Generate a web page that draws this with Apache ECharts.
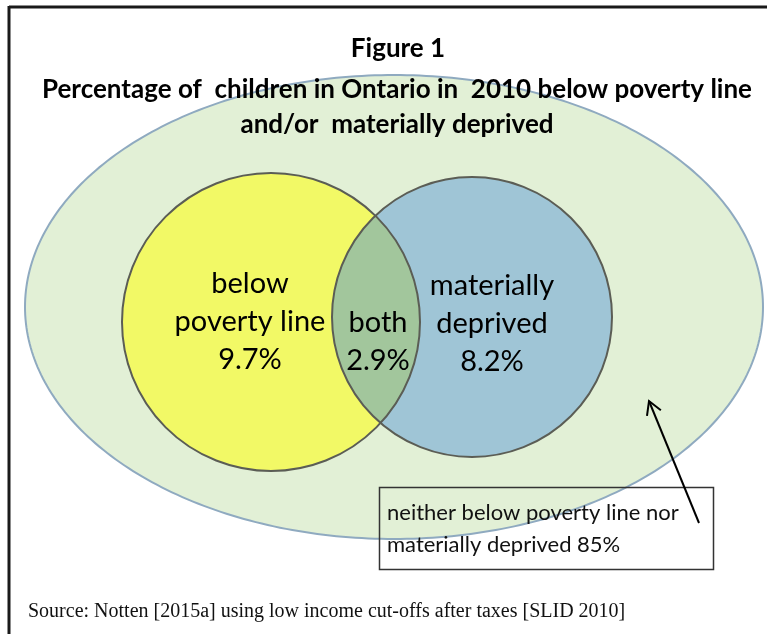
<!DOCTYPE html>
<html><head><meta charset="utf-8">
<script src="https://cdn.jsdelivr.net/npm/echarts@6/dist/echarts.min.js"></script>
<style>html,body{margin:0;padding:0;background:#fff}#c{width:767px;height:634px}</style>
</head><body><div id="c"></div>
<script>
// ---- data ----
const titleLines = ['Figure 1', 'Percentage of  children in Ontario in  2010 below poverty line', 'and/or  materially deprived'];
const sourceText = 'Source: Notten [2015a] using low income cut-offs after taxes [SLID 2010]';
const regionKeys = ['neither', 'poverty', 'both', 'deprived'];
const regionNames = ['neither below poverty line nor\nmaterially deprived', 'below\npoverty line', 'both', 'materially\ndeprived'];
const regionValues = [85, 9.7, 2.9, 8.2];

// ---- layout (axis units of a hidden 767 x 634 plane) ----
const layout = {
  universe: { cx: 394, cy: 307, rx: 369, ry: 232 },
  poverty: { cx: 271, cy: 322, r: 149 },
  deprived: { cx: 472, cy: 317, r: 140 },
  labels: { poverty: [250, 322], both: [378, 342], deprived: [492, 324] }
};
const colors = {
  universeFill: '#e2f0d6', universeStroke: '#8faac0',
  poverty: '#f2f966', deprived: '#9fc5d6', both: '#a2c69c',
  circleStroke: '#5b5d55', text: '#000'
};
const FONT = 'Lato, "Open Sans", sans-serif';

function ellipsePts(cx, cy, rx, ry, n) {
  const p = [];
  for (let i = 0; i < n; i++) { const t = i / n * Math.PI * 2; p.push([cx + rx * Math.cos(t), cy + ry * Math.sin(t)]); }
  return p;
}
function pixCircle(api, c) {
  const p = api.coord([c.cx, c.cy]);
  const r = api.size([c.r, c.r])[0];
  return { cx: p[0], cy: p[1], r };
}
function lensPts(a, b) {
  const pts = [];
  const n = 720;
  for (let i = 0; i < n; i++) {
    const t = i / n * Math.PI * 2;
    const x = a.cx + a.r * Math.cos(t), y = a.cy + a.r * Math.sin(t);
    if ((x - b.cx) ** 2 + (y - b.cy) ** 2 <= b.r * b.r) pts.push([x, y]);
    const x2 = b.cx + b.r * Math.cos(t), y2 = b.cy + b.r * Math.sin(t);
    if ((x2 - a.cx) ** 2 + (y2 - a.cy) ** 2 <= a.r * a.r) pts.push([x2, y2]);
  }
  const mx = pts.reduce((s, p) => s + p[0], 0) / pts.length;
  const my = pts.reduce((s, p) => s + p[1], 0) / pts.length;
  pts.sort((p, q) => Math.atan2(p[1] - my, p[0] - mx) - Math.atan2(q[1] - my, q[0] - mx));
  return pts;
}
function labelText(i) { return regionNames[i] + '\n' + regionValues[i] + '%'; }
function textEl(api, pos, txt) {
  const p = api.coord(pos);
  return { type: 'text', x: p[0], y: p[1], z2: 10,
    style: { text: txt, fill: colors.text, font: '29px ' + FONT, align: 'center', verticalAlign: 'middle',
      textAlign: 'center', textVerticalAlign: 'middle', lineHeight: 38 } };
}

function renderRegion(params, api) {
  const key = regionKeys[api.value(0)];
  if (key === 'neither') {
    const u = layout.universe;
    const c = api.coord([u.cx, u.cy]);
    const s = api.size([u.rx, u.ry]);
    return { type: 'polygon', shape: { points: ellipsePts(c[0], c[1], s[0], s[1], 360) },
      style: { fill: colors.universeFill, stroke: colors.universeStroke, lineWidth: 2 } };
  }
  if (key === 'poverty') {
    const c = pixCircle(api, layout.poverty);
    return { type: 'group', children: [
      { type: 'circle', shape: c, style: { fill: colors.poverty } },
      textEl(api, layout.labels.poverty, labelText(1))
    ] };
  }
  if (key === 'deprived') {
    const c = pixCircle(api, layout.deprived);
    return { type: 'group', children: [
      { type: 'circle', shape: c, style: { fill: colors.deprived } },
      textEl(api, layout.labels.deprived, labelText(3))
    ] };
  }
  // both
  const a = pixCircle(api, layout.poverty), b = pixCircle(api, layout.deprived);
  return { type: 'group', children: [
    { type: 'polygon', shape: { points: lensPts(a, b) }, style: { fill: colors.both } },
    { type: 'circle', shape: a, style: { fill: null, stroke: colors.circleStroke, lineWidth: 2 } },
    { type: 'circle', shape: b, style: { fill: null, stroke: colors.circleStroke, lineWidth: 2 } },
    textEl(api, layout.labels.both, labelText(2))
  ] };
}

// arrow
const arrowTail = [699, 523], arrowTip = [649, 401];
function arrowHead() {
  const dx = arrowTip[0] - arrowTail[0], dy = arrowTip[1] - arrowTail[1];
  const L = Math.hypot(dx, dy), ux = dx / L, uy = dy / L, len = 15, ang = Math.PI / 6;
  const w = (s) => {
    const c = Math.cos(s * ang), sn = Math.sin(s * ang);
    const rx = ux * c - uy * sn, ry = ux * sn + uy * c;
    return [arrowTip[0] - rx * len, arrowTip[1] - ry * len];
  };
  return [w(1), arrowTip.slice(), w(-1)];
}

const chart = echarts.init(document.getElementById('c'), null, { renderer: 'canvas' });
chart.setOption({
  animation: false,
  backgroundColor: '#fff',
  grid: { left: 0, right: 0, top: 0, bottom: 0 },
  xAxis: { type: 'value', min: 0, max: 767, show: false },
  yAxis: { type: 'value', min: 0, max: 634, inverse: true, show: false },
  series: [{
    type: 'custom', coordinateSystem: 'cartesian2d', renderItem: renderRegion, silent: true,
    data: [[0], [1], [3], [2]]
  }],
  graphic: [
    { type: 'line', z: 100, shape: { x1: 9, y1: 7, x2: 767, y2: 7 }, style: { stroke: '#1a1a1a', lineWidth: 3 } },
    { type: 'line', z: 100, shape: { x1: 9, y1: 6, x2: 9, y2: 634 }, style: { stroke: '#1a1a1a', lineWidth: 3 } },
    { type: 'text', z: 100, x: 398, y: 49, style: { text: titleLines[0], font: 'bold 26px ' + FONT, fill: '#000', align: 'center', verticalAlign: 'middle', textAlign: 'center', textVerticalAlign: 'middle' } },
    { type: 'text', z: 100, x: 397, y: 90, style: { text: titleLines[1], font: 'bold 26px ' + FONT, fill: '#000', align: 'center', verticalAlign: 'middle', textAlign: 'center', textVerticalAlign: 'middle' } },
    { type: 'text', z: 100, x: 397, y: 125, style: { text: titleLines[2], font: 'bold 26px ' + FONT, fill: '#000', align: 'center', verticalAlign: 'middle', textAlign: 'center', textVerticalAlign: 'middle' } },
    { type: 'rect', z: 100, shape: { x: 379.5, y: 487.5, width: 334, height: 82 }, style: { fill: null, stroke: '#333', lineWidth: 1.5 } },
    { type: 'text', z: 100, x: 387, y: 529, style: { text: regionNames[0] + ' ' + regionValues[0] + '%', font: '22px ' + FONT, fill: '#111', align: 'left', verticalAlign: 'middle', textAlign: 'left', textVerticalAlign: 'middle', lineHeight: 32 } },
    { type: 'line', z: 100, shape: { x1: arrowTail[0], y1: arrowTail[1], x2: arrowTip[0], y2: arrowTip[1] }, style: { stroke: '#000', lineWidth: 2 } },
    { type: 'polyline', z: 100, shape: { points: arrowHead() }, style: { stroke: '#000', lineWidth: 2, fill: null } },
    { type: 'text', z: 100, x: 28, y: 612, style: { text: sourceText, font: '20px "Liberation Serif", "Times New Roman", serif', fill: '#111', align: 'left', verticalAlign: 'middle', textAlign: 'left', textVerticalAlign: 'middle' } }
  ]
});
</script></body></html>
